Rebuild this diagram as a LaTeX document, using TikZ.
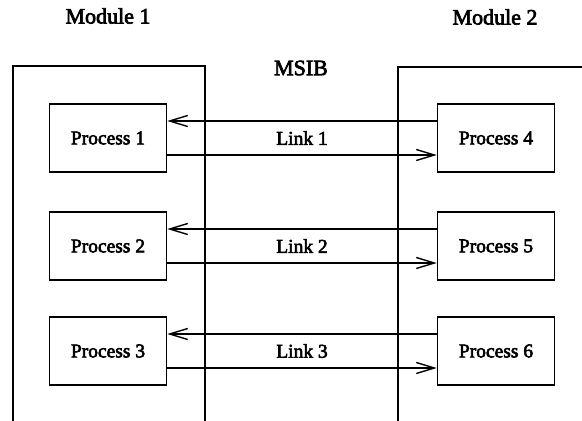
\documentclass[tikz,border=0pt]{standalone}
\usepackage{fontspec}
\setmainfont{Liberation Serif}[FakeBold=3]
\usetikzlibrary{arrows.meta,calc}
\begin{document}
\begin{tikzpicture}[x=1pt,y=-1pt,
    modframe/.style={line width=1.6pt},
    procbox/.style={draw,line width=1.6pt,minimum width=117pt,minimum height=68pt,inner sep=0pt,font=\fontsize{19.5}{21}\selectfont},
    title/.style={font=\fontsize{22}{24}\selectfont},
    linklabel/.style={font=\fontsize{19.5}{21}\selectfont},
    msg/.style={line width=1.5pt,-{Straight Barb[length=18pt,width=11pt,line width=1.4pt]}}]
  \useasboundingbox (0,0) rectangle (582,421);

  % module frames, open at the bottom
  \draw[modframe] (13,425) -- (13,66) -- (205,66) -- (205,425);
  \draw[modframe] (398,425) -- (398,67) -- (590,67);

  % titles
  \node[title] (m1) at (108,16) {Module 1};
  \node[title] (m2) at (495,17) {Module 2};
  \node[title] (msib) at (301,68) {MSIB};

  % processes
  \node[procbox] (p1) at (108,138) {Process 1};
  \node[procbox] (p2) at (108,246) {Process 2};
  \node[procbox] (p3) at (108,351) {Process 3};
  \node[procbox] (p4) at (496,138) {Process 4};
  \node[procbox] (p5) at (496,246) {Process 5};
  \node[procbox] (p6) at (496,351) {Process 6};

  % links between the two modules: upper line leftwards, lower line rightwards
  \foreach \a/\b/\n in {p1/p4/1,p2/p5/2,p3/p6/3}{
    \draw[msg] ([yshift=17pt]\b.west) -- ([yshift=17pt]\a.east);
    \draw[msg] ([yshift=-17pt]\a.east) -- ([yshift=-17pt]\b.west);
    \node[linklabel] (l\n) at ($(\a.east)!0.5!(\b.west)$) {Link \n};
  }
\end{tikzpicture}
\end{document}
